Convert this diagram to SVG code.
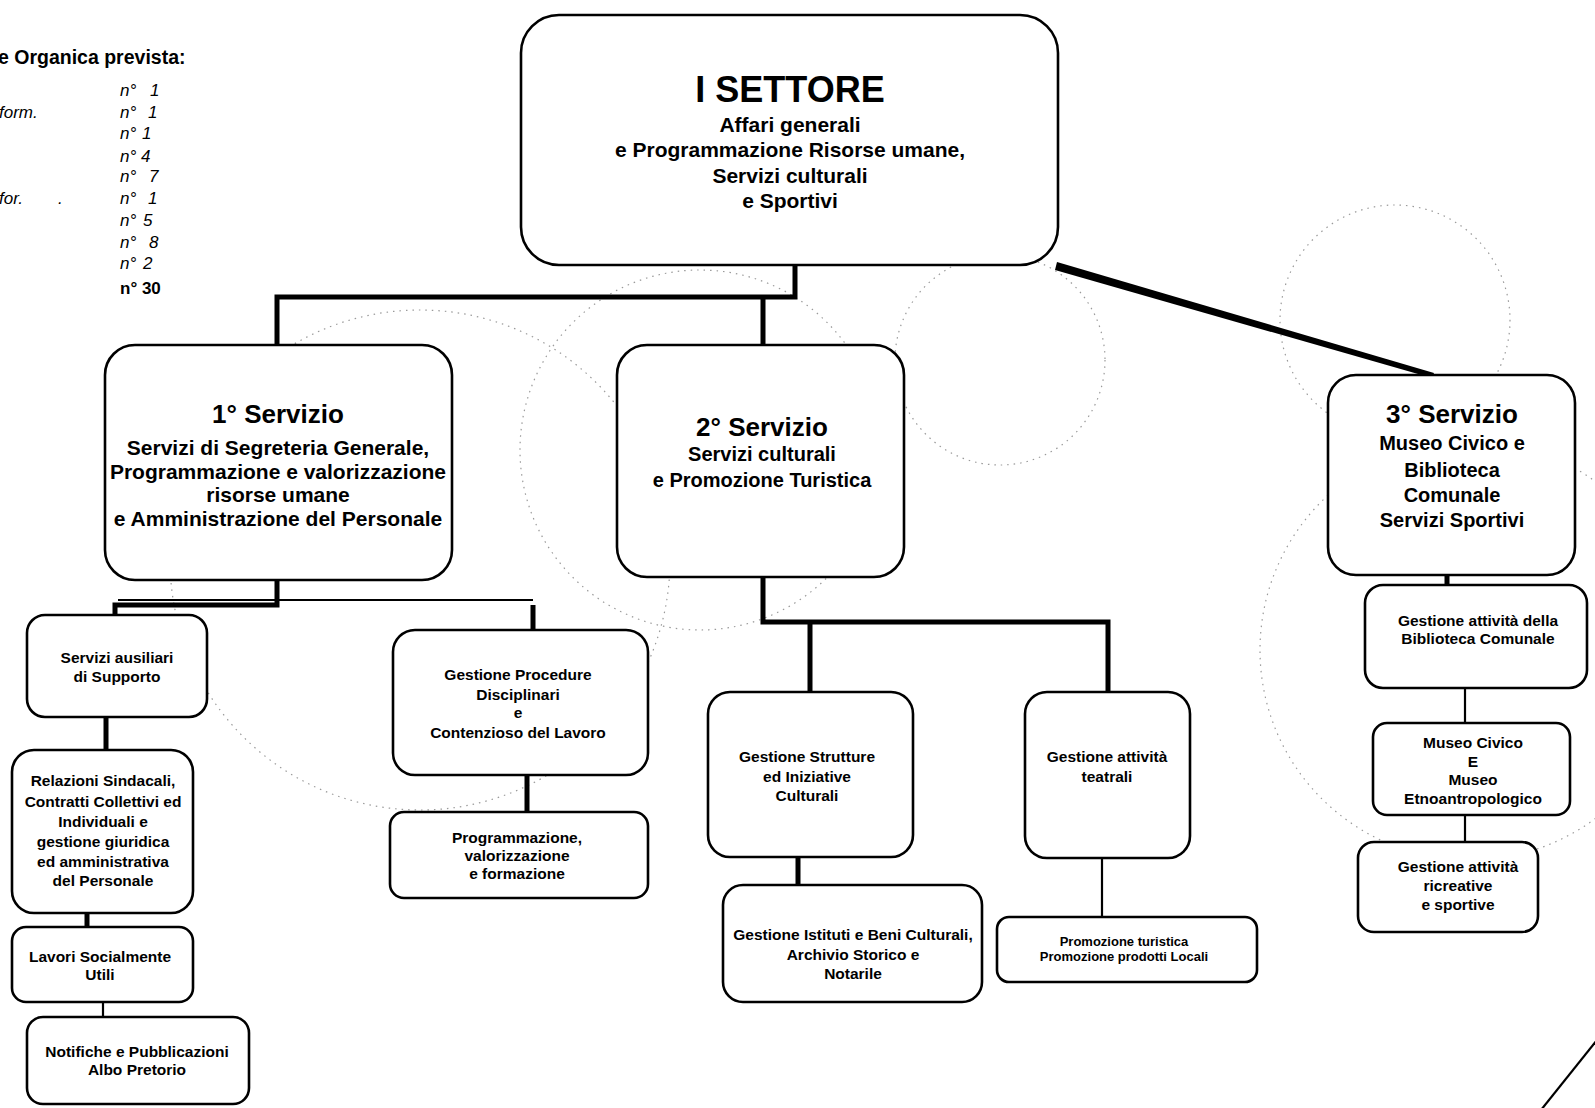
<svg xmlns="http://www.w3.org/2000/svg" width="1595" height="1108" viewBox="0 0 1595 1108">
<style>
.bx{fill:#fff;stroke:#000;stroke-width:2.6}
.t{font-family:"Liberation Sans",Arial,sans-serif;font-weight:bold;fill:#000;text-anchor:middle}
.h1{font-size:36px}
.h2{font-size:26px}
.m{font-size:21px}
.b{font-size:20px}
.b1{font-size:21px}
.s{font-size:15.5px}
.xs{font-size:13px}
.lg{font-family:"Liberation Sans",Arial,sans-serif;fill:#000;font-size:17px;font-style:italic}
.lh{font-family:"Liberation Sans",Arial,sans-serif;fill:#000;font-size:19.5px;font-weight:bold}
.k{stroke:#000;fill:none;stroke-width:5}
.n{stroke:#000;fill:none;stroke-width:2.2}
.bg{fill:none;stroke:#9a9a9a;stroke-width:1.2;stroke-dasharray:1.5 5}
</style>
<rect width="1595" height="1108" fill="#fff"/>
<g id="background">
<circle class="bg" cx="700" cy="450" r="180"/>
<circle class="bg" cx="1000" cy="360" r="105"/>
<circle class="bg" cx="1395" cy="320" r="115"/>
<circle class="bg" cx="1470" cy="650" r="210"/>
<circle class="bg" cx="420" cy="560" r="250"/>
</g>
<g id="legend">
<text class="lh" x="-2" y="64">e Organica prevista:</text>
<text class="lg" x="120" y="96">n°</text><text class="lg" x="150" y="96">1</text>
<text class="lg" x="-1" y="118">form.</text><text class="lg" x="120" y="118">n°</text><text class="lg" x="148" y="118">1</text>
<text class="lg" x="120" y="139">n°</text><text class="lg" x="142" y="139">1</text>
<text class="lg" x="120" y="162">n°</text><text class="lg" x="141" y="162">4</text>
<text class="lg" x="120" y="182">n°</text><text class="lg" x="149" y="182">7</text>
<text class="lg" x="-1" y="204">for.</text><text class="lg" x="58" y="204">.</text><text class="lg" x="120" y="204">n°</text><text class="lg" x="148" y="204">1</text>
<text class="lg" x="120" y="226">n°</text><text class="lg" x="143" y="226">5</text>
<text class="lg" x="120" y="248">n°</text><text class="lg" x="149" y="248">8</text>
<text class="lg" x="120" y="269">n°</text><text class="lg" x="143" y="269">2</text>
<text class="lh" x="120" y="294" style="font-size:17px">n° 30</text>
</g>
<g id="connectors">
<path class="k" d="M795 265V297H277V345M763 297V345"/>
<path d="M1057 262L1434 373L1432 378L1055 270Z" fill="#000"/>
<path class="k" d="M277 580V605H115V615M533 605V630"/>
<path class="n" d="M118 600H533"/>
<path class="k" d="M763 577V622H1108V692M810 622V692"/>
<path class="k" d="M106 717V750M87 913V927M527 775V812M798 857V885M1447 575V585"/>
<path class="n" d="M103 1002V1017M1102 858V917M1465 688V723M1465 815V842"/>
<path class="n" d="M1541 1110L1597 1040" stroke-width="2.6"/>
</g>
<g id="settore">
<rect class="bx" x="521" y="15" width="537" height="250" rx="38"/>
<text class="t h1" x="790" y="102">I SETTORE</text>
<text class="t m" x="790" y="132">Affari generali</text>
<text class="t m" x="790" y="157">e Programmazione Risorse umane,</text>
<text class="t m" x="790" y="183">Servizi culturali</text>
<text class="t m" x="790" y="208">e Sportivi</text>
</g>
<g id="servizio1">
<rect class="bx" x="105" y="345" width="347" height="235" rx="30"/>
<text class="t h2" x="278" y="423">1° Servizio</text>
<text class="t b1" x="278" y="455">Servizi di Segreteria Generale,</text>
<text class="t b1" x="278" y="479">Programmazione  e valorizzazione</text>
<text class="t b1" x="278" y="502">risorse umane</text>
<text class="t b1" x="278" y="526">e Amministrazione del Personale</text>
</g>
<g id="servizio2">
<rect class="bx" x="617" y="345" width="287" height="232" rx="30"/>
<text class="t h2" x="762" y="436">2° Servizio</text>
<text class="t b" x="762" y="461">Servizi culturali</text>
<text class="t b" x="762" y="487">e Promozione Turistica</text>
</g>
<g id="servizio3">
<rect class="bx" x="1328" y="375" width="247" height="200" rx="28"/>
<text class="t h2" x="1452" y="423">3° Servizio</text>
<text class="t b" x="1452" y="450">Museo Civico e</text>
<text class="t b" x="1452" y="477">Biblioteca</text>
<text class="t b" x="1452" y="502">Comunale</text>
<text class="t b" x="1452" y="527">Servizi Sportivi</text>
</g>
<g id="ausiliari">
<rect class="bx" x="27" y="615" width="180" height="102" rx="18"/>
<text class="t s" x="117" y="663">Servizi ausiliari</text>
<text class="t s" x="117" y="682">di Supporto</text>
</g>
<g id="relazioni">
<rect class="bx" x="12" y="750" width="181" height="163" rx="22"/>
<text class="t s" x="103" y="786">Relazioni Sindacali,</text>
<text class="t s" x="103" y="807">Contratti Collettivi ed</text>
<text class="t s" x="103" y="827">Individuali e</text>
<text class="t s" x="103" y="847">gestione giuridica</text>
<text class="t s" x="103" y="867">ed amministrativa</text>
<text class="t s" x="103" y="886">del Personale</text>
</g>
<g id="lavori">
<rect class="bx" x="12" y="927" width="181" height="75" rx="14"/>
<text class="t s" x="100" y="962">Lavori Socialmente</text>
<text class="t s" x="100" y="980">Utili</text>
</g>
<g id="notifiche">
<rect class="bx" x="27" y="1017" width="222" height="87" rx="16"/>
<text class="t s" x="137" y="1057">Notifiche e Pubblicazioni</text>
<text class="t s" x="137" y="1075">Albo Pretorio</text>
</g>
<g id="procedure">
<rect class="bx" x="393" y="630" width="255" height="145" rx="22"/>
<text class="t s" x="518" y="680">Gestione Procedure</text>
<text class="t s" x="518" y="700">Disciplinari</text>
<text class="t s" x="518" y="718">e</text>
<text class="t s" x="518" y="738">Contenzioso del Lavoro</text>
</g>
<g id="programmazione">
<rect class="bx" x="390" y="812" width="258" height="86" rx="14"/>
<text class="t s" x="517" y="843">Programmazione,</text>
<text class="t s" x="517" y="861">valorizzazione</text>
<text class="t s" x="517" y="879">e formazione</text>
</g>
<g id="strutture">
<rect class="bx" x="708" y="692" width="205" height="165" rx="22"/>
<text class="t s" x="807" y="762">Gestione Strutture</text>
<text class="t s" x="807" y="782">ed Iniziative</text>
<text class="t s" x="807" y="801">Culturali</text>
</g>
<g id="teatrali">
<rect class="bx" x="1025" y="692" width="165" height="166" rx="22"/>
<text class="t s" x="1107" y="762">Gestione attività</text>
<text class="t s" x="1107" y="782">teatrali</text>
</g>
<g id="istituti">
<rect class="bx" x="723" y="885" width="259" height="117" rx="20"/>
<text class="t s" x="853" y="940">Gestione Istituti e Beni Culturali,</text>
<text class="t s" x="853" y="960">Archivio Storico e</text>
<text class="t s" x="853" y="979">Notarile</text>
</g>
<g id="promozione">
<rect class="bx" x="997" y="917" width="260" height="65" rx="12"/>
<text class="t xs" x="1124" y="946">Promozione turistica</text>
<text class="t xs" x="1124" y="961">Promozione prodotti Locali</text>
</g>
<g id="biblioteca">
<rect class="bx" x="1365" y="585" width="222" height="103" rx="18"/>
<text class="t s" x="1478" y="626">Gestione attività  della</text>
<text class="t s" x="1478" y="644">Biblioteca Comunale</text>
</g>
<g id="museo">
<rect class="bx" x="1373" y="723" width="197" height="92" rx="14"/>
<text class="t s" x="1473" y="748">Museo Civico</text>
<text class="t s" x="1473" y="767">E</text>
<text class="t s" x="1473" y="785">Museo</text>
<text class="t s" x="1473" y="804">Etnoantropologico</text>
</g>
<g id="ricreative">
<rect class="bx" x="1358" y="842" width="180" height="90" rx="16"/>
<text class="t s" x="1458" y="872">Gestione attività</text>
<text class="t s" x="1458" y="891">ricreative</text>
<text class="t s" x="1458" y="910">e sportive</text>
</g>
</svg>
